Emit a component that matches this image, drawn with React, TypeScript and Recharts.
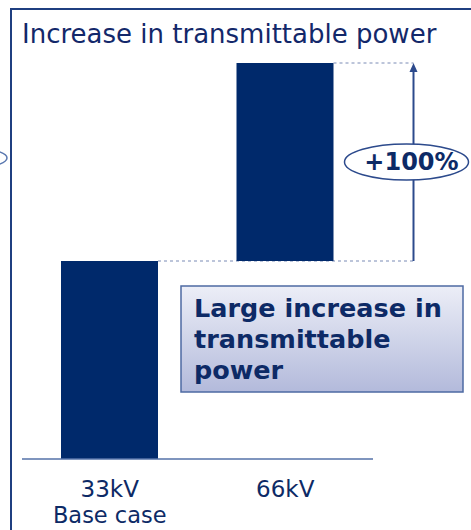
import { ComposedChart, Bar, XAxis, YAxis } from 'recharts';

const categories = ['33kV', '66kV'];
const subLabels = ['Base case', ''];
const powerValues = [1, 2];
const increaseLabel = '+100%';

const chartData = categories.map((name, i) => ({ name, sub: subLabels[i], power: powerValues[i] }));

const W = 471;
const H = 530;
const PLOT_LEFT = 22;
const PLOT_RIGHT = 373;
const BAND = (PLOT_RIGHT - PLOT_LEFT) / categories.length;
const ARROW_GAP = 80;
const NAVY = '#00296b';
const LINE = '#2c4a8c';
const FONT = '"DejaVu Sans", Verdana, sans-serif';

// the upgraded bar only shows the gain above the base case
function BarWithNotes(props: any) {
  const { x, y, width, height, index } = props;
  const last = categories.length - 1;
  const arrowX = x + width + (last - index) * BAND + ARROW_GAP;
  const base = y + height;
  const firstTop = base - (height * powerValues[0]) / powerValues[last];
  const midY = (firstTop + y) / 2;
  const rectH = index === last ? firstTop - y : height;
  return (
    <g>
      <rect x={x} y={y} width={width} height={rectH} fill={NAVY} />
      <line x1={x + width} y1={y} x2={arrowX} y2={y} stroke="#7a8bb5" strokeWidth={1} strokeDasharray="3 3" />
      {index === last && (
        <g>
          <line x1={arrowX} y1={firstTop} x2={arrowX} y2={y + 8} stroke={LINE} strokeWidth={2} />
          <polygon points={`${arrowX - 4},${y + 9} ${arrowX + 4},${y + 9} ${arrowX},${y}`} fill={LINE} />
          <ellipse cx={arrowX - 7} cy={midY} rx={62} ry={18} fill="#fff" stroke={LINE} strokeWidth={1.5} />
          <text x={arrowX - 2} y={midY + 8} textAnchor="middle" fontFamily={FONT} fontWeight="bold" fontSize={24} fill="#0d2a66">
            {increaseLabel}
          </text>
        </g>
      )}
    </g>
  );
}

function CategoryTick(props: any) {
  const { x, y, payload, index } = props;
  return (
    <g>
      <text x={x} y={y} dy={36} textAnchor="middle" fontFamily={FONT} fontSize={23} fill="#0d2a66">
        {payload.value}
      </text>
      <text x={x} y={y} dy={62} textAnchor="middle" fontFamily={FONT} fontSize={22.5} fill="#0d2a66">
        {subLabels[index]}
      </text>
    </g>
  );
}

export default function App() {
  return (
    <div style={{ position: 'absolute', left: 0, top: 0, width: W, height: H, background: '#fff', overflow: 'hidden' }}>
      <svg width={W} height={H} style={{ position: 'absolute', left: 0, top: 0 }}>
        <path d="M11,530 L11,9 L471,9" fill="none" stroke="#1f3f80" strokeWidth={2} />
        <ellipse cx={-48} cy={158} rx={55} ry={12} fill="none" stroke="#5a78b0" strokeWidth={1.5} />
        <text x={22} y={43} fontFamily={FONT} fontSize={26} fill="#13286a">
          Increase in transmittable power
        </text>
      </svg>
      <div style={{ position: 'absolute', left: 0, top: 0 }}>
        <ComposedChart
          width={W}
          height={H}
          data={chartData}
          margin={{ top: 63, right: W - PLOT_RIGHT, left: PLOT_LEFT, bottom: 41 }}
        >
          <XAxis
            dataKey="name"
            height={30}
            tickLine={false}
            tickSize={0}
            axisLine={{ stroke: '#5572a8', strokeWidth: 1.5 }}
            tick={<CategoryTick />}
            interval={0}
          />
          <YAxis hide domain={[0, 2]} />
          <Bar dataKey="power" barSize={97} shape={<BarWithNotes />} isAnimationActive={false} />
        </ComposedChart>
      </div>
      <svg width={W} height={H} style={{ position: 'absolute', left: 0, top: 0, pointerEvents: 'none' }}>
        <defs>
          <linearGradient id="boxFill" x1="0" y1="0" x2="0" y2="1">
            <stop offset="0%" stopColor="#eceef7" />
            <stop offset="100%" stopColor="#b3badb" />
          </linearGradient>
        </defs>
        <rect x={181} y={286} width={282} height={106} fill="url(#boxFill)" stroke="#4d6aa3" strokeWidth={1.5} />
        <g fontFamily={FONT} fontWeight="bold" fontSize={25.5} fill="#0d2a66">
          <text x={194} y={317}>Large increase in</text>
          <text x={194} y={348}>transmittable</text>
          <text x={194} y={379}>power</text>
        </g>
      </svg>
    </div>
  );
}
